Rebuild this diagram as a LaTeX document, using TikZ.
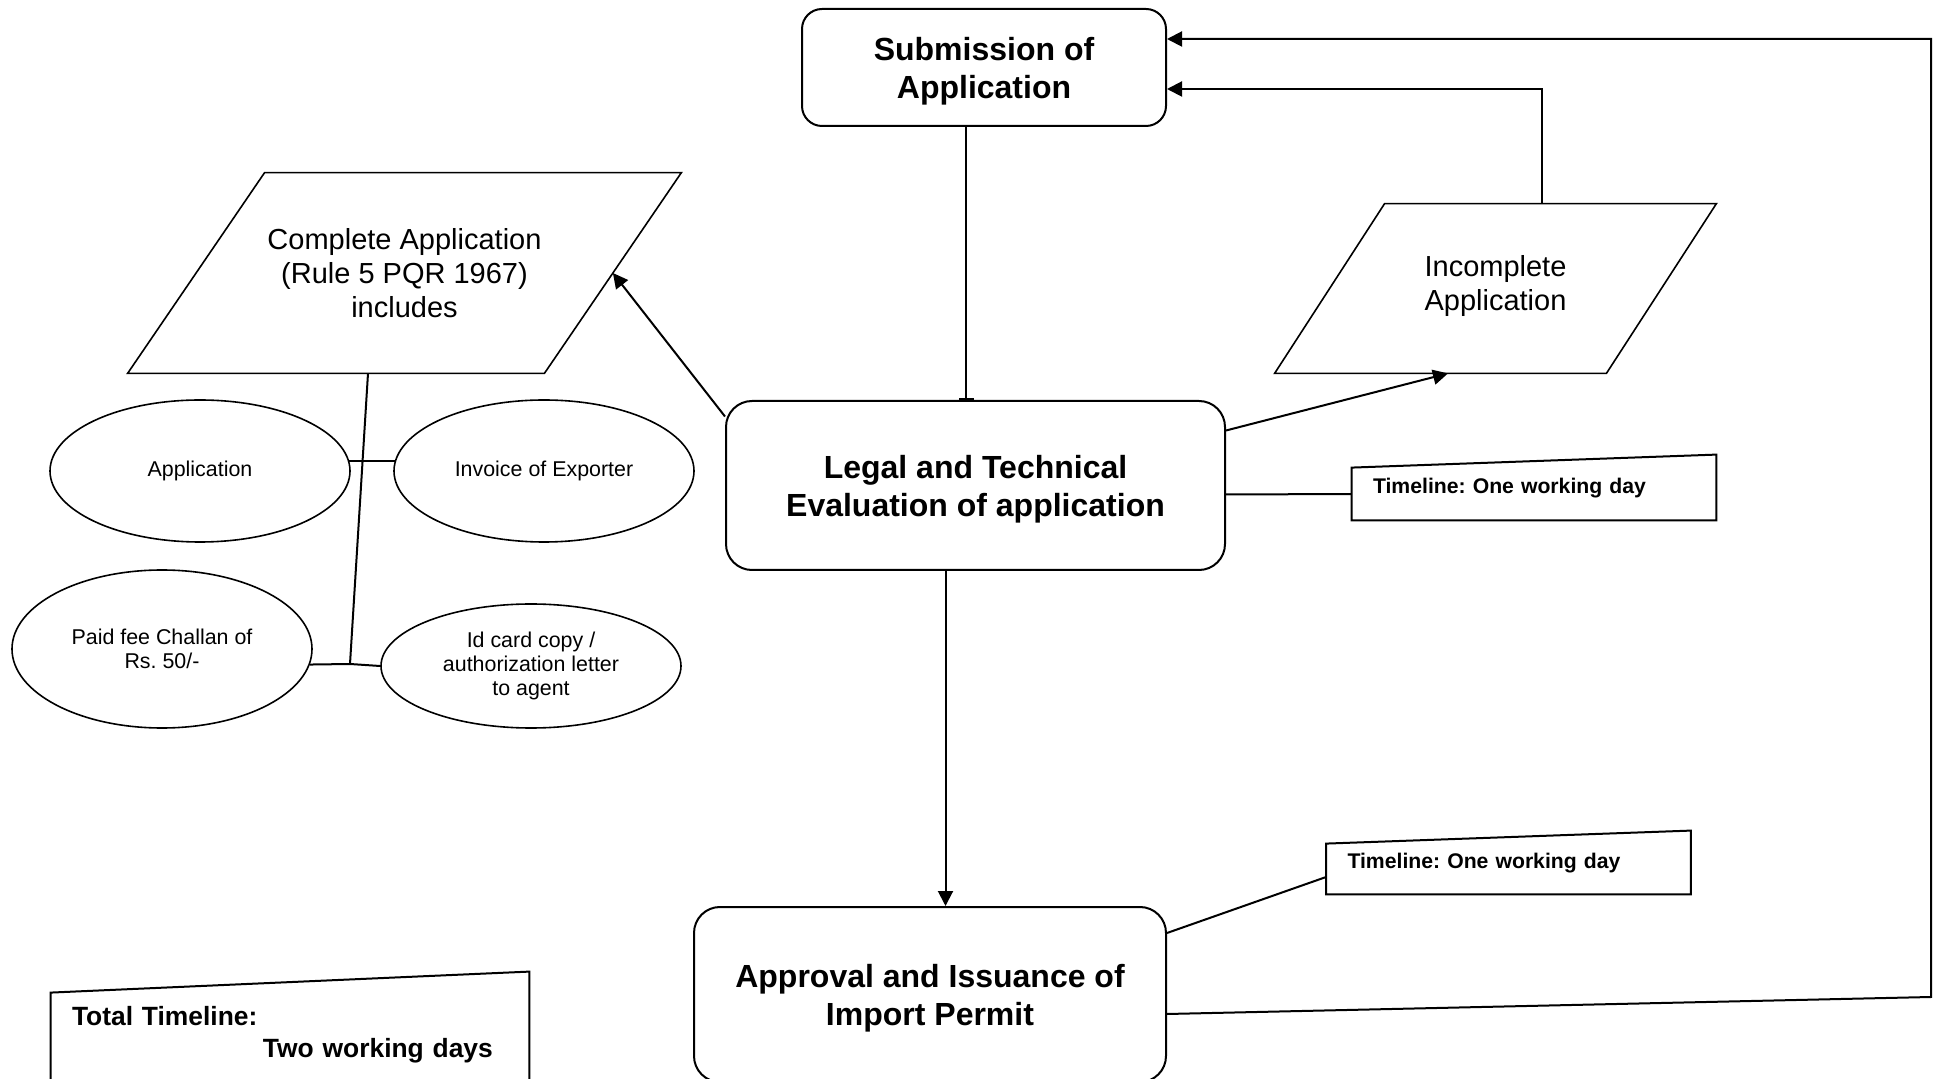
\documentclass[tikz,border=0pt]{standalone}
\usepackage{fontspec}
\setmainfont{Liberation Sans}
\frenchspacing
\usetikzlibrary{shapes.geometric,arrows.meta,calc}

\def\unit{0.5pt}
\def\doclist{{(200,471)/app/71pt/{Application}}, {(544,471)/inv/71pt/{Invoice of Exporter}}, {(162,649)/fee/79pt/{Paid fee Challan of\\Rs. 50/-}}, {(531,666)/idc/62pt/{Id card copy /\\authorization letter\\to agent}}}
\tikzstyle{proc}=[draw, line width=1pt, rounded corners=13pt, align=center, font=\fontsize{16}{19}\selectfont\bfseries, text depth=0pt]
\tikzstyle{iobox}=[align=center, font=\fontsize{14.5}{17}\selectfont]
\tikzstyle{doc}=[draw, ellipse, line width=0.8pt, minimum width=150pt, inner sep=1pt, align=center, font=\fontsize{10.7}{12}\selectfont]
\tikzstyle{note}=[inner xsep=10.5pt, align=left, font=\fontsize{10.6}{12.5}\selectfont\bfseries]
\tikzstyle{outline}=[draw, line width=0.8pt]
\tikzstyle{link}=[draw, line width=1pt]
\tikzstyle{flow}=[draw, line width=1pt, -{Triangle[length=7.5pt,width=7.5pt]}]

\begin{document}
\begin{tikzpicture}[x=\unit, y=-\unit]
  \useasboundingbox (0,0) rectangle (1934,1079);

  \node[proc, rounded corners=10pt, minimum width=182pt, minimum height=58.5pt] (sub) at (984,67.5) {Submission of\\Application};
  \node[proc, minimum width=249.5pt, minimum height=84.5pt] (legal) at (975.5,485.5) {Legal and Technical\\Evaluation of application};
  \node[proc, minimum width=236pt, minimum height=87.5pt] (approval) at (930,994.5) {Approval and Issuance of\\Import Permit};

  \node[iobox, minimum width=276.5pt, minimum height=100pt] (complete) at (404.5,273) {Complete Application\\(Rule 5 PQR 1967)\\includes};
  \node[iobox, align=left, text depth=6pt, minimum width=220.5pt, minimum height=84.5pt] (incomp) at (1495.5,288.5) {Incomplete\\Application};
  \path[outline] ($(complete.north west)+(137,0)$) -- (complete.north east) -- ($(complete.south east)+(-137,0)$) -- (complete.south west) -- cycle;
  \path[outline] ($(incomp.north west)+(110,0)$) -- (incomp.north east) -- ($(incomp.south east)+(-110,0)$) -- (incomp.south west) -- cycle;

  \foreach \pos/\name/\hgt/\txt in \doclist {
    \node[doc, minimum height=\hgt] (\name) at \pos {\txt};
  }

  \node[note, text width=161pt, text depth=8pt, minimum height=26pt] (tl1) at (1534,494) {Timeline: One working day};
  \node[note, text width=161pt, text depth=8pt, minimum height=25pt] (tl2) at (1508.5,869) {Timeline: One working day};
  \node[note, font=\fontsize{13.2}{16}\selectfont\bfseries, text width=218pt, minimum height=42pt] (total) at (290,1035) {Total Timeline:\\\hspace*{95.5pt}Two working days};

  \path[link] (tl1.south west) -- (tl1.south east) -- ($(tl1.north east)+(0,-13)$) -- (tl1.north west) -- cycle;
  \path[link] (tl2.south west) -- (tl2.south east) -- ($(tl2.north east)+(0,-13)$) -- (tl2.north west) -- cycle;
  \path[link] (total.north west) -- ($(total.north east)+(0,-21)$) -- ($(total.south east)+(0,30)$) -- ($(total.south west)+(0,30)$) -- cycle;

  \coordinate (s1) at ($(sub.south)+(-18,0)$);
  \coordinate (l1) at ($(legal.south)+(-30,0)$);
  \coordinate (rt) at (1931,997);
  \coordinate (jt) at (350,664);

  \path[link, -{Bar[width=7.5pt]}] (s1) -- (s1 |- legal.north);
  \path[flow] (l1) -- (l1 |- approval.north);
  \path[flow] ($(legal.west)+(0,-69)$) -- ($(complete.east)+(-68.5,0)$);
  \path[flow] ($(legal.east)+(0,-55)$) -- ($(incomp.south)+(-47.5,0)$);
  \path[flow] ($(incomp.north)+(46.5,0)$) |- ($(sub.east)+(0,21.5)$);
  \path[flow] ($(approval.east)+(0,19.5)$) -- (rt) |- ($(sub.east)+(0,-28.5)$);
  \path[link] ($(legal.east)+(0,9)$) -- (tl1.west);
  \path[link] ($(approval.north east)+(0,27)$) -- ($(tl2.west)+(0,8)$);

  \path[link] ($(complete.south)+(-36.5,0)$) -- (jt);
  \path[link] (app.4) -- (inv.176);
  \path[link] (fee.-6) -- (jt) -- (idc.west);
\end{tikzpicture}
\end{document}
